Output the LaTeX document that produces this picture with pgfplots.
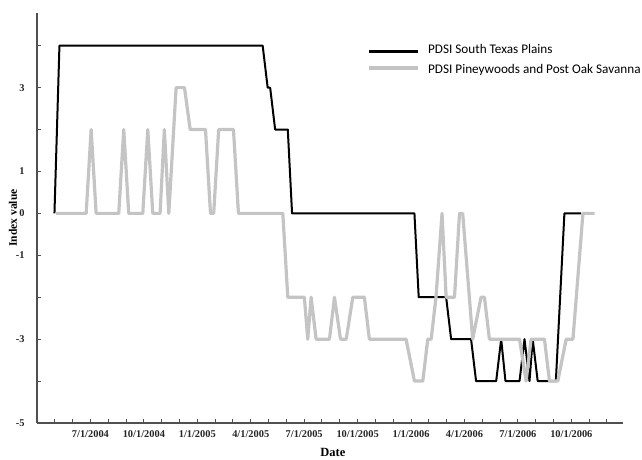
\documentclass[border=0pt]{standalone}
\usepackage{pgfplots}
\pgfplotsset{compat=1.18}
\usepackage{fontspec}
\setmainfont{Liberation Serif}
\newfontfamily\carlito{Carlito}
\definecolor{axisgray}{RGB}{80,80,80}
\definecolor{lightline}{RGB}{196,196,196}

\begin{document}
\begin{tikzpicture}
\begin{axis}[
    at={(37pt,36pt)}, anchor=south west,
    scale only axis, width=586pt, height=410pt,
    xmin=0, xmax=32.9, ymin=-5, ymax=4.78,
    axis lines=left, axis line style={-, axisgray, line width=1.2pt},
    tick align=inside, tick style={axisgray, line width=1pt},
    major tick length=4pt, minor tick length=4pt,
    xtick={3,6,...,30},
    xticklabels={7/1/2004,10/1/2004,1/1/2005,4/1/2005,7/1/2005,10/1/2005,1/1/2006,4/1/2006,7/1/2006,10/1/2006},
    minor xtick={1,2,...,32},
    ytick={-5,-4,...,4},
    yticklabels={-5,,-3,,-1,0,1,,3,},
    tick label style={font=\bfseries\fontsize{10.4}{12}\selectfont, text=black!85},
    xticklabel style={yshift=-4pt},
    yticklabel style={xshift=-9pt},
    xlabel={Date}, ylabel={Index value},
    every axis x label/.style={at={(axis description cs:0.505,-0.073)}, anchor=center, font=\bfseries\fontsize{12.5}{14}\selectfont},
    every axis y label/.style={at={(axis description cs:-0.041,0.5)}, rotate=90, anchor=center, font=\bfseries\fontsize{11.5}{13}\selectfont},
    legend style={draw=none, fill=none, inner sep=0pt, row sep=5pt,
        at={(axis description cs:0.563,0.929)}, anchor=north west,
        font=\carlito\fontsize{13.2}{15}\selectfont, cells={anchor=west},
        /tikz/every odd column/.style={column sep=6pt}},
]
% PDSI South Texas Plains (x = months since 4/1/2004)
\addplot[black, line width=2pt, line join=round,
    legend image code/.code={\draw[black, line width=3.2pt] (0pt,-1.5pt) -- (49pt,-1.5pt);}]
coordinates {
(0.98,0) (1.26,4) (12.67,4) (12.95,3) (13.09,3) (13.37,2) (14.08,2) (14.32,0)
(21.19,0) (21.43,-2) (22.97,-2) (23.25,-3) (24.37,-3) (24.65,-4) (25.78,-4)
(26.06,-3) (26.30,-4) (27.09,-4) (27.37,-3) (27.65,-4) (27.83,-3) (28.11,-4)
(29.13,-4) (29.61,0) (30.55,0)
};
\addlegendentry{PDSI South Texas Plains}
% PDSI Pineywoods and Post Oak Savanna
\addplot[lightline, line width=3.2pt, line join=round,
    legend image code/.code={\draw[lightline, line width=4pt] (0pt,1.5pt) -- (49pt,1.5pt);}]
coordinates {
(1.07,0) (2.76,0) (3.04,2) (3.32,0) (4.59,0) (4.87,2) (5.15,0) (5.94,0)
(6.22,2) (6.50,0) (6.91,0) (7.15,2) (7.40,0) (7.81,3) (8.28,3) (8.60,2)
(9.46,2) (9.74,0) (9.92,0) (10.20,2) (11.03,2) (11.31,0) (13.80,0) (14.08,-2)
(15.01,-2) (15.20,-3) (15.39,-2) (15.67,-3) (16.42,-3) (16.70,-2) (17.04,-3)
(17.36,-3) (17.73,-2) (18.38,-2) (18.66,-3) (20.72,-3) (21.19,-4) (21.66,-4)
(21.94,-3) (22.13,-3) (22.40,-2) (22.74,0) (22.97,-2) (23.44,-2) (23.72,0)
(23.90,0) (24.46,-3) (24.93,-2) (25.12,-2) (25.40,-3) (27.09,-3) (27.46,-4)
(27.74,-3) (28.49,-3) (28.77,-4) (29.24,-4) (29.71,-3) (30.09,-3) (30.65,0)
(31.30,0)
};
\addlegendentry{PDSI Pineywoods and Post Oak Savanna}
\end{axis}
\pgfresetboundingbox
\useasboundingbox (0,0) rectangle (642pt,459pt);
\end{tikzpicture}
\end{document}
